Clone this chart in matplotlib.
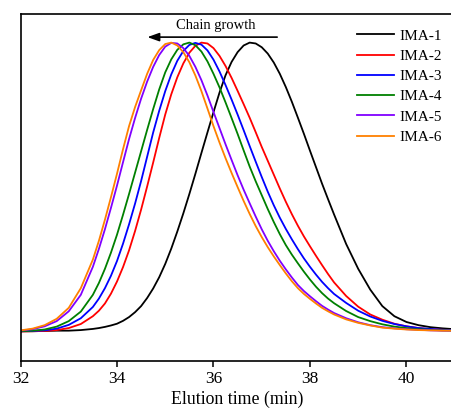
import matplotlib
matplotlib.use("Agg")
import matplotlib.pyplot as plt

plt.rcParams['font.family'] = ['Liberation Serif', 'DejaVu Serif']

elution_time = [32.0, 32.25, 32.5, 32.75, 33.0, 33.25, 33.5,
                33.625, 33.75, 33.875, 34.0, 34.125, 34.25, 34.375, 34.5,
                34.625, 34.75, 34.875, 35.0, 35.125, 35.25, 35.375, 35.5,
                35.625, 35.75, 35.875, 36.0, 36.125, 36.25, 36.375, 36.5,
                36.625, 36.75, 36.875, 37.0, 37.125, 37.25, 37.375, 37.5,
                37.625, 37.75, 37.875, 38.0, 38.125, 38.25, 38.375, 38.5,
                38.75, 39.0, 39.25, 39.5, 39.75, 40.0, 40.25, 40.5, 40.75, 41.0]

ima_1 = [0.001, 0.001, 0.002, 0.003, 0.003, 0.005, 0.009,
         0.012, 0.016, 0.021, 0.027, 0.037, 0.050, 0.067, 0.088,
         0.116, 0.149, 0.188, 0.234, 0.287, 0.346, 0.409, 0.476,
         0.546, 0.618, 0.689, 0.759, 0.827, 0.887, 0.933, 0.967,
         0.990, 1.000, 0.997, 0.984, 0.962, 0.931, 0.892, 0.846,
         0.795, 0.740, 0.684, 0.626, 0.569, 0.512, 0.458, 0.405,
         0.303, 0.217, 0.145, 0.088, 0.053, 0.033, 0.022, 0.015, 0.011, 0.008]
ima_2 = [0.000, 0.001, 0.002, 0.005, 0.012, 0.026, 0.053,
         0.072, 0.097, 0.131, 0.173, 0.223, 0.281, 0.348, 0.422,
         0.502, 0.585, 0.670, 0.751, 0.821, 0.880, 0.928, 0.965,
         0.989, 1.000, 0.997, 0.981, 0.954, 0.919, 0.878, 0.833,
         0.787, 0.740, 0.690, 0.639, 0.591, 0.543, 0.495, 0.449,
         0.406, 0.366, 0.329, 0.295, 0.262, 0.230, 0.199, 0.170,
         0.123, 0.086, 0.059, 0.041, 0.027, 0.018, 0.012, 0.008, 0.006, 0.004]
ima_3 = [0.001, 0.002, 0.004, 0.010, 0.023, 0.046, 0.085,
         0.114, 0.150, 0.193, 0.244, 0.304, 0.371, 0.443, 0.521,
         0.605, 0.689, 0.764, 0.832, 0.890, 0.937, 0.971, 0.992,
         0.999, 0.993, 0.973, 0.941, 0.900, 0.853, 0.803, 0.751,
         0.697, 0.642, 0.588, 0.535, 0.484, 0.437, 0.394, 0.355,
         0.319, 0.285, 0.253, 0.224, 0.197, 0.172, 0.150, 0.130,
         0.099, 0.072, 0.052, 0.037, 0.026, 0.018, 0.012, 0.009, 0.006, 0.005]
ima_4 = [0.001, 0.003, 0.007, 0.017, 0.036, 0.069, 0.127,
         0.168, 0.217, 0.273, 0.335, 0.404, 0.476, 0.550, 0.624,
         0.698, 0.770, 0.838, 0.897, 0.942, 0.975, 0.994, 1.000,
         0.991, 0.969, 0.935, 0.892, 0.845, 0.793, 0.739, 0.684,
         0.627, 0.571, 0.520, 0.472, 0.424, 0.379, 0.337, 0.299,
         0.266, 0.236, 0.207, 0.180, 0.155, 0.133, 0.114, 0.098,
         0.071, 0.050, 0.036, 0.025, 0.017, 0.012, 0.008, 0.006, 0.004, 0.003]
ima_5 = [0.003, 0.008, 0.018, 0.036, 0.070, 0.127, 0.224,
         0.286, 0.354, 0.428, 0.505, 0.586, 0.666, 0.739, 0.806,
         0.865, 0.916, 0.957, 0.986, 0.999, 0.997, 0.981, 0.954,
         0.916, 0.870, 0.817, 0.760, 0.704, 0.648, 0.594, 0.541,
         0.491, 0.444, 0.398, 0.354, 0.314, 0.278, 0.245, 0.215,
         0.187, 0.161, 0.140, 0.122, 0.105, 0.089, 0.076, 0.064,
         0.046, 0.032, 0.022, 0.015, 0.011, 0.008, 0.006, 0.004, 0.003, 0.003]
ima_6 = [0.004, 0.010, 0.022, 0.044, 0.082, 0.150, 0.249,
         0.314, 0.387, 0.465, 0.546, 0.631, 0.711, 0.777, 0.835,
         0.892, 0.940, 0.974, 0.995, 1.000, 0.990, 0.967, 0.932,
         0.886, 0.832, 0.772, 0.711, 0.654, 0.600, 0.549, 0.500,
         0.452, 0.407, 0.365, 0.327, 0.292, 0.260, 0.230, 0.201,
         0.174, 0.150, 0.130, 0.113, 0.097, 0.082, 0.070, 0.059,
         0.042, 0.030, 0.021, 0.0135, 0.010, 0.007, 0.005, 0.004, 0.003, 0.003]

series = [ima_1, ima_2, ima_3, ima_4, ima_5, ima_6]
labels = ['IMA-1', 'IMA-2', 'IMA-3', 'IMA-4', 'IMA-5', 'IMA-6']
colors = ['#000000', '#ff0000', '#0000ff', '#008000', '#8000ff', '#ff8000']
xticks = [32, 34, 36, 38, 40]

W, H = 451, 408
fig = plt.figure(figsize=(W / 100, H / 100), dpi=100)
left_px, right_px, top_px, bottom_px = 20.5, 454.7, 14, 361
ax = fig.add_axes([left_px / W, (H - bottom_px) / H,
                   (right_px - left_px) / W, (bottom_px - top_px) / H])

for ys, lab, col in zip(series, labels, colors):
    ax.plot(elution_time, ys, color=col, lw=1.3, label=lab)

ax.set_xlim(32, 41)
ax.set_ylim(-0.102, 1.099)
ax.set_xticks(xticks)
ax.set_yticks([])
ax.tick_params(axis='x', direction='out', length=4, width=1.1, labelsize=12.5, pad=3)
for s in ax.spines.values():
    s.set_linewidth(1.2)
ax.spines['right'].set_visible(False)
ax.set_xlabel('Elution time (min)', fontsize=12.8, labelpad=2.5)

ax.annotate('', xy=(34.63, 1.019), xytext=(37.32, 1.019),
            arrowprops=dict(arrowstyle='-|>,head_length=0.7,head_width=0.25',
                            color='black', lw=1.2, shrinkA=0, shrinkB=0,
                            mutation_scale=10))
ax.text(36.04, 1.06, 'Chain growth', ha='center', va='center', fontsize=10.5)

leg = ax.legend(loc='upper left', bbox_to_anchor=(357 / W, (H - 29) / H),
                bbox_transform=fig.transFigure, frameon=False, fontsize=11,
                handlelength=2.4, handletextpad=0.35, labelspacing=0.43,
                borderpad=0, borderaxespad=0)

fig.savefig('out.png', dpi=100)
